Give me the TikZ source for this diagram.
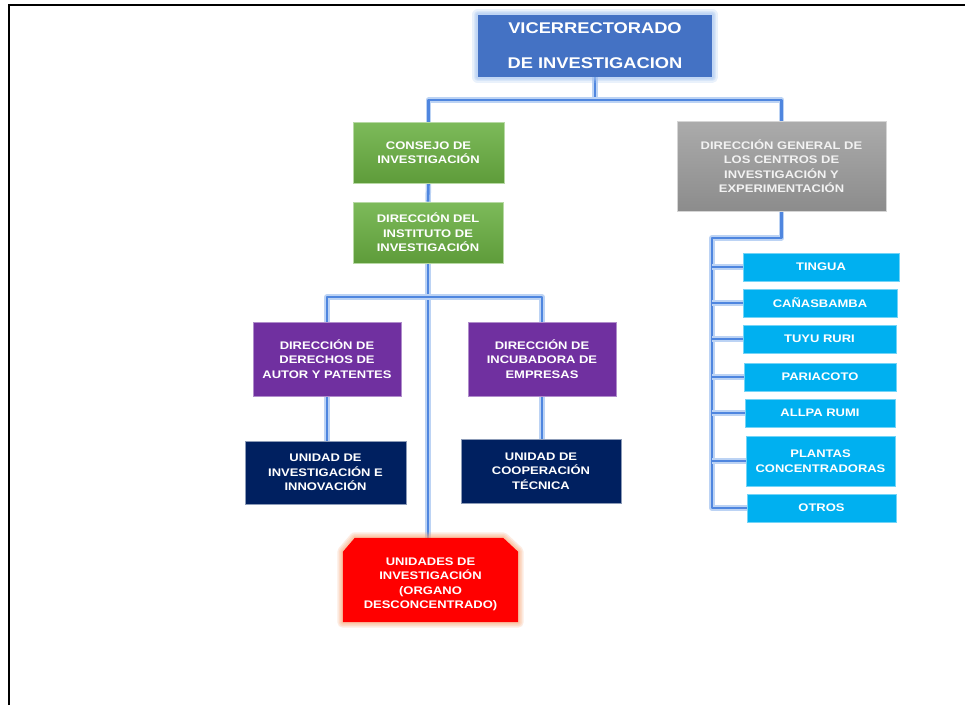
\documentclass[tikz,border=0pt]{standalone}
\usepackage{fontspec}
\newfontfamily\orgfont[FakeStretch=1.18]{Liberation Sans}
\usetikzlibrary{backgrounds,calc}

\definecolor{vrblue}{HTML}{4472C4}
\definecolor{vrglow}{HTML}{9EC0F0}
\definecolor{lnblue}{HTML}{4F86DF}
\definecolor{lnglow}{HTML}{BCD3F4}
\definecolor{grtop}{HTML}{7DBA5A}
\definecolor{grbot}{HTML}{5E9C3A}
\definecolor{purp}{HTML}{7030A0}
\definecolor{navy}{HTML}{002060}
\definecolor{gytop}{HTML}{ABABAB}
\definecolor{gybot}{HTML}{8C8C8C}
\definecolor{cyanbox}{HTML}{00B0F0}
\definecolor{redfill}{HTML}{FF0000}
\definecolor{redglow}{HTML}{F9A878}

\tikzset{
  orgbox/.style={rectangle, inner sep=0pt, align=center, text=white,
    font=\orgfont\bfseries\fontsize{11}{14.5}\selectfont},
  greenbox/.style={orgbox, top color=grtop, bottom color=grbot, draw=grtop!55!white, line width=0.6},
  purplebox/.style={orgbox, fill=purp, draw=purp!55!white, line width=0.6},
  navybox/.style={orgbox, fill=navy, draw=navy!45!white, line width=0.6},
  graybox/.style={orgbox, top color=gytop, bottom color=gybot, draw=gytop!50!white, line width=0.6, text=white!95!black},
  cyanstation/.style={orgbox, fill=cyanbox, draw=cyanbox!55!white, line width=0.6},
  topbox/.style={orgbox, fill=vrblue, font=\orgfont\bfseries\fontsize{15.5}{35}\selectfont},
  conn/.style={draw=lnblue, line width=2.6, line join=round,
    preaction={draw=lnglow, line width=5.5, line join=round}},
  halo/.style={draw=#1, line join=round, draw opacity=0.22},
}

\begin{document}
\begin{tikzpicture}[x=1pt, y=-1pt]
  \useasboundingbox (0,0) rectangle (965,705);

  % page frame (top and left edges)
  \draw[line width=2.2] (9,705) -- (9,5) -- (965,5);

  % boxes
  \node[topbox, minimum width=234, minimum height=62] (vr) at (595,46) {VICERRECTORADO\\DE INVESTIGACION};

  \node[greenbox, minimum width=151, minimum height=61] (cons) at (428.5,152.5) {CONSEJO DE\\INVESTIGACIÓN};
  \node[greenbox, minimum width=150, minimum height=61] (inst) at (428,232.5) {DIRECCIÓN DEL\\INSTITUTO DE\\INVESTIGACIÓN};

  \node[purplebox, minimum width=148, minimum height=74] (der) at (327,359) {DIRECCIÓN DE\\DERECHOS DE\\AUTOR Y PATENTES};
  \node[purplebox, minimum width=148, minimum height=74] (inc) at (542,359) {DIRECCIÓN DE\\INCUBADORA DE\\EMPRESAS};

  \node[navybox, minimum width=161, minimum height=63] (uie) at (325.5,472.5) {UNIDAD DE\\INVESTIGACIÓN E\\INNOVACIÓN};
  \node[navybox, minimum width=160, minimum height=64] (uct) at (541,471) {UNIDAD DE\\COOPERACIÓN\\TÉCNICA};

  \node[orgbox, minimum width=175, minimum height=84] (uni) at (430.5,580)
    {\raisebox{-7pt}[0pt][0pt]{\begin{tabular}{@{}c@{}}UNIDADES DE\\INVESTIGACIÓN\\(ORGANO\\DESCONCENTRADO)\end{tabular}}};

  \node[graybox, minimum width=209, minimum height=90] (dg) at (781.5,166) {DIRECCIÓN GENERAL DE\\LOS CENTROS DE\\INVESTIGACIÓN Y\\EXPERIMENTACIÓN};

  \node[cyanstation, minimum width=156, minimum height=28] (tingua) at (821,267) {TINGUA};
  \node[cyanstation, minimum width=154, minimum height=28] (canas) at (820,303) {CAÑASBAMBA};
  \node[cyanstation, minimum width=153, minimum height=28] (tuyu) at (819.5,339) {TUYU RURI};
  \node[cyanstation, minimum width=152, minimum height=28] (paria) at (820,377) {PARIACOTO};
  \node[cyanstation, minimum width=150, minimum height=28] (allpa) at (820,413) {ALLPA RUMI};
  \node[cyanstation, minimum width=149, minimum height=50] (plantas) at (820.5,461) {PLANTAS\\CONCENTRADORAS};
  \node[cyanstation, minimum width=149, minimum height=28] (otros) at (821.5,508) {OTROS};

  \coordinate (hb) at (595,100);
  \coordinate (hp) at (428,297);
  \coordinate (sp) at (712,238);

  \begin{scope}[on background layer]
    \fill[white] (0,0) rectangle (965,705);

    % connectors
    \draw[conn] (vr.south) -- (hb);
    \draw[conn] (cons.north) -- (cons.north |- hb) -- (dg.north |- hb) -- (dg.north);
    \draw[conn] (cons.south) -- (inst.north);
    \draw[conn] (inst.south) -- (inst.south |- uni.north);
    \draw[conn] (der.north) -- (der.north |- hp) -- (inc.north |- hp) -- (inc.north);
    \draw[conn] (der.south) -- (der.south |- uie.north);
    \draw[conn] (inc.south) -- (inc.south |- uct.north);
    \draw[conn] (dg.south) -- (dg.south |- sp) -- (sp) -- (sp |- otros.west) -- (otros.west);
    \foreach \st in {tingua,canas,tuyu,paria,allpa,plantas}
      \draw[conn] (sp |- \st.west) -- (\st.west);

    % soft halo round the top box
    \foreach \w in {11,8,5,3}
      \draw[halo=vrglow, line width=\w] (vr.south west) rectangle (vr.north east);
    \fill[vrblue] (vr.south west) rectangle (vr.north east);

    % chamfered red box with its halo
    \foreach \w in {11,8,5,3}
      \draw[halo=redglow, line width=\w]
        (uni.south west) -- ($(uni.north west)+(0,14)$) -- ($(uni.north west)+(12,0)$)
        -- ($(uni.north east)+(-15,0)$) -- ($(uni.north east)+(0,14)$)
        -- (uni.south east) -- cycle;
    \fill[redfill]
      (uni.south west) -- ($(uni.north west)+(0,14)$) -- ($(uni.north west)+(12,0)$)
      -- ($(uni.north east)+(-15,0)$) -- ($(uni.north east)+(0,14)$)
      -- (uni.south east) -- cycle;
  \end{scope}
\end{tikzpicture}
\end{document}
